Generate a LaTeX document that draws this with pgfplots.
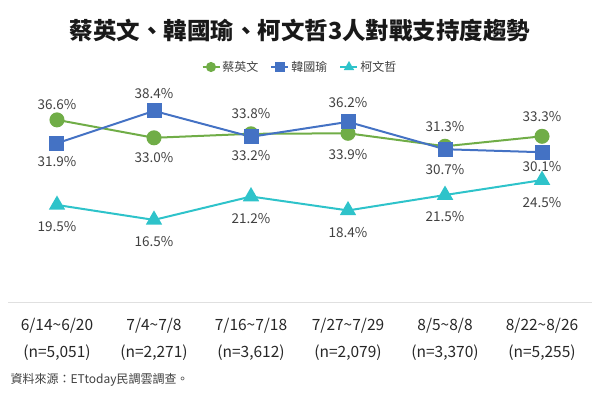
\documentclass[border=0pt]{standalone}
\usepackage{fontspec}
\setmainfont{Noto Sans CJK TC}
\usepackage{pgfplots}
\pgfplotsset{compat=1.18}
\usepackage{pgfplotstable}
\definecolor{cgreen}{HTML}{70AD47}
\definecolor{cblue}{HTML}{4472C4}
\definecolor{ccyan}{HTML}{2EC3CA}
\definecolor{ctext}{HTML}{404040}

\pgfplotstableread{
x y s
0 36.6 15
1 33.0 -20
2 33.8 20
3 33.9 -21
4 31.3 20
5 33.3 20
}\tsai
\pgfplotstableread{
x y s
0 31.9 -18
1 38.4 17
2 33.2 -19
3 36.2 19
4 30.7 -20
5 30.1 -14
}\han
\pgfplotstableread{
x y s
0 19.5 -22
1 16.5 -22
2 21.2 -22
3 18.4 -22
4 21.5 -22
5 24.5 -22
}\ko

\begin{document}
\begin{tikzpicture}
\path[use as bounding box] (-8pt,-90pt) rectangle (592pt,302pt);
\begin{axis}[
  at={(0,0)}, anchor=south west,
  scale only axis, width=584pt, height=209pt,
  xmin=-0.505, xmax=5.515, ymin=0, ymax=42,
  axis x line=bottom, axis y line=none,
  x axis line style={draw=black!12, line width=0.8pt, -},
  xtick={0,...,5},
  xticklabels={{6/14\textasciitilde 6/20\\(n=5,051)},
               {7/4\textasciitilde 7/8\\(n=2,271)},
               {7/16\textasciitilde 7/18\\(n=3,612)},
               {7/27\textasciitilde 7/29\\(n=2,079)},
               {8/5\textasciitilde 8/8\\(n=3,370)},
               {8/22\textasciitilde 8/26\\(n=5,255)}},
  xticklabel style={align=center, font=\fontsize{15.5}{27}\selectfont, text=black!85, yshift=-13pt},
  major tick length=0pt,
  ytick=\empty,
  clip=false,
  legend style={at={(0.5,1)}, anchor=center, yshift=26pt, draw=none,
    font=\fontsize{12}{14}\selectfont, text=ctext,
    /tikz/every even column/.append style={column sep=10pt}},
  legend columns=3,
  legend image code/.code={\draw[mark repeat=2,mark phase=2,mark size=4pt] plot coordinates {(0pt,0pt) (8.5pt,0pt) (17pt,0pt)};},
  nodes near coords={\pgfmathprintnumber[fixed,fixed zerofill,precision=1,assume math mode=true]{\pgfplotspointmeta}\%},
  point meta=\thisrow{y},
  visualization depends on={\thisrow{s}\as\sh},
  every node near coord/.append style={anchor=center, yshift=\sh pt, font=\fontsize{13.5}{15}\selectfont, text=ctext},
]
\addplot[cgreen, line width=2pt, mark=*, mark size=6.5pt, mark options={fill=cgreen, draw=cgreen}] table[x=x,y=y] {\tsai};
\addlegendentry{蔡英文}
\addplot[cblue, line width=2pt, mark=square*, mark size=6.5pt, mark options={fill=cblue, draw=cblue}] table[x=x,y=y] {\han};
\addlegendentry{韓國瑜}
\addplot[ccyan, line width=2pt, mark=triangle*, mark size=7.5pt, mark options={fill=ccyan, draw=ccyan}] table[x=x,y=y] {\ko};
\addlegendentry{柯文哲}
\end{axis}
\node[font=\fontsize{23.5}{27}\selectfont\bfseries, text=black!90] at (292pt,272pt) {蔡英文、韓國瑜、柯文哲3人對戰支持度趨勢};
\node[font=\fontsize{12}{14}\selectfont, text=ctext, anchor=west] at (-1pt,-78pt) {資料來源：ETtoday民調雲調查。};
\end{tikzpicture}
\end{document}
